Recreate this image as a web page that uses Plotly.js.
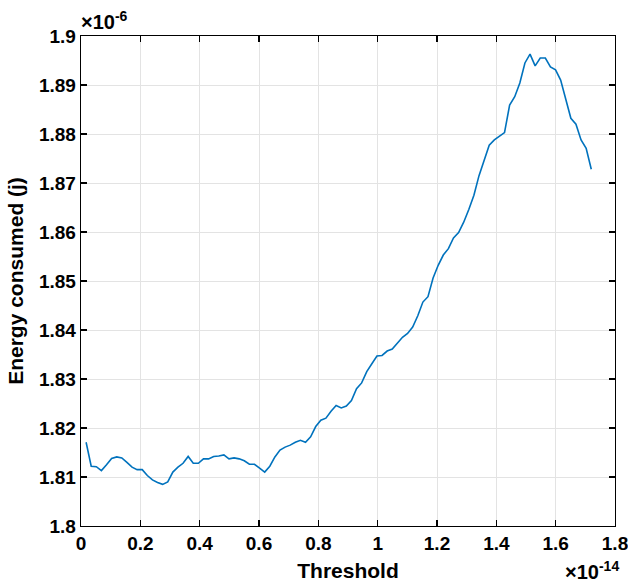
<!DOCTYPE html>
<html>
<head>
<meta charset="utf-8">
<script src="https://cdn.plot.ly/plotly-3.0.1.min.js"></script>
<style>html,body{margin:0;padding:0;background:#fff;}#chart{width:628px;height:587px;}</style>
</head>
<body>
<div id="chart"></div>
<script>
// Threshold (×10^-14)
var threshold = [0.0172, 0.0344, 0.0516, 0.0688, 0.086, 0.1032, 0.1204, 0.1376, 0.1548, 0.172,
  0.1892, 0.2064, 0.2236, 0.2408, 0.258, 0.2752, 0.2924, 0.3096, 0.3268, 0.344,
  0.3612, 0.3784, 0.3956, 0.4128, 0.43, 0.4472, 0.4644, 0.4816, 0.4988, 0.516,
  0.5332, 0.5504, 0.5676, 0.5848, 0.602, 0.6192, 0.6364, 0.6536, 0.6708, 0.688,
  0.7052, 0.7224, 0.7396, 0.7568, 0.774, 0.7912, 0.8084, 0.8256, 0.8428, 0.86,
  0.8772, 0.8944, 0.9116, 0.9288, 0.946, 0.9632, 0.9804, 0.9976, 1.0148, 1.032,
  1.0492, 1.0664, 1.0836, 1.1008, 1.118, 1.1352, 1.1524, 1.1696, 1.1868, 1.204,
  1.2212, 1.2384, 1.2556, 1.2728, 1.29, 1.3072, 1.3244, 1.3416, 1.3588, 1.376,
  1.3932, 1.4104, 1.4276, 1.4448, 1.462, 1.4792, 1.4964, 1.5136, 1.5308, 1.548,
  1.5652, 1.5824, 1.5996, 1.6168, 1.634, 1.6512, 1.6684, 1.6856, 1.7028, 1.72];

// Energy consumed (×10^-6 j)
var energy = [1.8171, 1.8122, 1.8121, 1.8113, 1.8125, 1.8138, 1.8141, 1.8139, 1.8130, 1.8120,
  1.8115, 1.8115, 1.8103, 1.8094, 1.8089, 1.8085, 1.8090, 1.8110, 1.8120, 1.8128,
  1.8142, 1.8128, 1.8128, 1.8137, 1.8137, 1.8142, 1.8143, 1.8145, 1.8137, 1.8139,
  1.8137, 1.8133, 1.8126, 1.8126, 1.8118, 1.8110, 1.8122, 1.8141, 1.8155, 1.8161,
  1.8165, 1.8171, 1.8175, 1.8171, 1.8182, 1.8203, 1.8216, 1.8220, 1.8234, 1.8246,
  1.8241, 1.8245, 1.8256, 1.8280, 1.8292, 1.8315, 1.8331, 1.8347, 1.8348, 1.8357,
  1.8361, 1.8373, 1.8385, 1.8393, 1.8406, 1.8429, 1.8457, 1.8468, 1.8506, 1.8532,
  1.8553, 1.8566, 1.8588, 1.8599, 1.8620, 1.8646, 1.8675, 1.8715, 1.8747, 1.8777,
  1.8788, 1.8795, 1.8803, 1.8859, 1.8876, 1.8904, 1.8945, 1.8963, 1.8939, 1.8955,
  1.8955, 1.8937, 1.8931, 1.8910, 1.8871, 1.8832, 1.8820, 1.8788, 1.8771, 1.8728];

var xTickVals = [0, 0.2, 0.4, 0.6, 0.8, 1, 1.2, 1.4, 1.6, 1.8];
var xTickText = ['0', '0.2', '0.4', '0.6', '0.8', '1', '1.2', '1.4', '1.6', '1.8'];
var yTickVals = [1.8, 1.81, 1.82, 1.83, 1.84, 1.85, 1.86, 1.87, 1.88, 1.89, 1.9];
var yTickText = ['1.8', '1.81', '1.82', '1.83', '1.84', '1.85', '1.86', '1.87', '1.88', '1.89', '1.9'];

var fontFam = 'Liberation Sans, Arial, sans-serif';

var trace = {
  x: threshold, y: energy, type: 'scatter', mode: 'lines',
  line: {color: '#0072BD', width: 1.6}, hoverinfo: 'skip'
};

var axisCommon = {
  showline: true, linecolor: '#000', linewidth: 1.3, mirror: 'ticks',
  ticks: 'inside', ticklen: 6, tickwidth: 1.3, tickcolor: '#000',
  showgrid: true, gridcolor: '#e3e3e3', gridwidth: 1, zeroline: false,
  ticklabeloverflow: 'allow',
  tickfont: {family: fontFam, size: 19, color: '#000', weight: 'bold'}
};

var layout = {
  width: 628, height: 587,
  margin: {l: 81, r: 13, t: 36, b: 61},
  paper_bgcolor: '#fff', plot_bgcolor: '#fff',
  showlegend: false,
  xaxis: Object.assign({}, axisCommon, {
    range: [0, 1.8], tickvals: xTickVals, ticktext: xTickText,
    title: {text: '<b>Threshold</b>', font: {family: fontFam, size: 21, color: '#000'}, standoff: 10}
  }),
  yaxis: Object.assign({}, axisCommon, {
    range: [1.8, 1.9], tickvals: yTickVals, ticktext: yTickText,
    title: {text: '<b>Energy consumed (j)</b>', font: {family: fontFam, size: 21, color: '#000'}, standoff: 9}
  }),
  annotations: [
    {text: '<b>×10<sup>-6</sup></b>', xref: 'paper', yref: 'paper', x: 0, y: 1, xanchor: 'left', yanchor: 'bottom', yshift: 1, xshift: -2,
     showarrow: false, font: {family: fontFam, size: 20, color: '#000'}},
    {text: '<b>×10<sup>-14</sup></b>', xref: 'paper', yref: 'paper', x: 1, y: 0, xanchor: 'right', yanchor: 'top', yshift: -30, xshift: 6,
     showarrow: false, font: {family: fontFam, size: 20, color: '#000'}}
  ]
};

Plotly.newPlot('chart', [trace], layout, {staticPlot: true, displayModeBar: false});
</script>
</body>
</html>
